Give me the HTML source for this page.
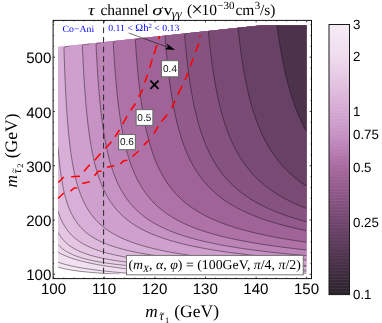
<!DOCTYPE html>
<html><head><meta charset="utf-8"><style>
html,body{margin:0;padding:0;background:#fff;}
svg{display:block}
text{text-rendering:geometricPrecision}
.ss{font-family:"Liberation Sans",sans-serif;}
.sf{font-family:"Liberation Serif",serif;}
</style></head><body>
<svg xmlns="http://www.w3.org/2000/svg" width="382" height="323" viewBox="0 0 382 323">
<defs>
<filter id="nf" x="0" y="0" width="382" height="323" filterUnits="userSpaceOnUse" color-interpolation-filters="sRGB"><feOffset dx="0" dy="0"/></filter>
<clipPath id="cp"><path d="M58.0,47.1 L262,25.3 L306.4,25.3 L306.4,274.3 L58.0,274.3 Z"/></clipPath>
<linearGradient id="cbg" x1="0" y1="0" x2="0" y2="1"><stop offset="0.0000" stop-color="#f7ecf6"/><stop offset="0.0167" stop-color="#f6eaf5"/><stop offset="0.0333" stop-color="#f5e8f4"/><stop offset="0.0500" stop-color="#f4e5f3"/><stop offset="0.0667" stop-color="#f3e3f2"/><stop offset="0.0833" stop-color="#f1e1f0"/><stop offset="0.1000" stop-color="#f0dfef"/><stop offset="0.1167" stop-color="#efdcee"/><stop offset="0.1333" stop-color="#edd8ec"/><stop offset="0.1500" stop-color="#ebd4ea"/><stop offset="0.1667" stop-color="#e9d0e7"/><stop offset="0.1833" stop-color="#e7cce5"/><stop offset="0.2000" stop-color="#e4c7e3"/><stop offset="0.2167" stop-color="#e2c3e1"/><stop offset="0.2333" stop-color="#e0bfde"/><stop offset="0.2500" stop-color="#debbdc"/><stop offset="0.2667" stop-color="#dbb6da"/><stop offset="0.2833" stop-color="#d9b2d7"/><stop offset="0.3000" stop-color="#d7aed5"/><stop offset="0.3167" stop-color="#d5aad3"/><stop offset="0.3333" stop-color="#d2a5d0"/><stop offset="0.3500" stop-color="#d0a1ce"/><stop offset="0.3667" stop-color="#cd9dcb"/><stop offset="0.3833" stop-color="#cb98c8"/><stop offset="0.4000" stop-color="#c894c5"/><stop offset="0.4167" stop-color="#c58fc1"/><stop offset="0.4333" stop-color="#c089bc"/><stop offset="0.4500" stop-color="#bc83b7"/><stop offset="0.4667" stop-color="#b87eb2"/><stop offset="0.4833" stop-color="#b378ac"/><stop offset="0.5000" stop-color="#af72a7"/><stop offset="0.5167" stop-color="#ab6ca2"/><stop offset="0.5333" stop-color="#a6689d"/><stop offset="0.5500" stop-color="#a26599"/><stop offset="0.5667" stop-color="#9d6295"/><stop offset="0.5833" stop-color="#995f91"/><stop offset="0.6000" stop-color="#945c8d"/><stop offset="0.6167" stop-color="#905989"/><stop offset="0.6333" stop-color="#8b5685"/><stop offset="0.6500" stop-color="#875381"/><stop offset="0.6667" stop-color="#82507d"/><stop offset="0.6833" stop-color="#7e4d79"/><stop offset="0.7000" stop-color="#794a75"/><stop offset="0.7167" stop-color="#754771"/><stop offset="0.7333" stop-color="#70456d"/><stop offset="0.7500" stop-color="#6c4269"/><stop offset="0.7667" stop-color="#674065"/><stop offset="0.7833" stop-color="#633e61"/><stop offset="0.8000" stop-color="#5f3c5d"/><stop offset="0.8167" stop-color="#5a3a59"/><stop offset="0.8333" stop-color="#563854"/><stop offset="0.8500" stop-color="#523550"/><stop offset="0.8667" stop-color="#4d334c"/><stop offset="0.8833" stop-color="#493148"/><stop offset="0.9000" stop-color="#442f44"/><stop offset="0.9167" stop-color="#402d40"/><stop offset="0.9333" stop-color="#3c2b3c"/><stop offset="0.9500" stop-color="#372837"/><stop offset="0.9667" stop-color="#332633"/><stop offset="0.9833" stop-color="#2e242f"/><stop offset="1.0000" stop-color="#2a222b"/></linearGradient>
</defs>
<rect width="382" height="323" fill="#fff"/>
<g clip-path="url(#cp)">
<rect x="50" y="20" width="265" height="260" fill="#ffffff"/>
<path d="M58.00,267.15 62.60,268.40 67.88,269.51 73.96,270.50 80.92,271.41 88.93,272.23 98.00,272.98 108.25,273.67 119.87,274.30 L129.9,274.3 L320,274.3 L320,0 L58.0,0 Z" fill="#f5e8f4"/>
<path d="M58.00,262.15 60.98,263.17 64.21,264.15 67.69,265.08 71.48,265.98 75.52,266.83 79.86,267.65 84.46,268.43 89.43,269.18 100.36,270.60 112.72,271.92 126.70,273.15 142.29,274.30 L152.3,274.3 L320,274.3 L320,0 L58.0,0 Z" fill="#f1e0f0"/>
<path d="M58.00,252.15 59.93,253.22 61.91,254.24 66.26,256.18 71.04,257.99 76.39,259.71 82.23,261.31 88.69,262.83 95.77,264.26 103.47,265.61 111.85,266.89 120.99,268.11 130.92,269.27 141.61,270.37 153.16,271.42 165.65,272.42 179.06,273.38 193.41,274.30 L203.4,274.3 L320,274.3 L320,0 L58.0,0 Z" fill="#edd8ec"/>
<path d="M58.00,244.68 59.93,246.64 62.04,248.46 64.34,250.16 66.82,251.74 69.55,253.23 72.47,254.61 75.64,255.90 79.12,257.13 82.91,258.29 86.95,259.37 91.29,260.38 96.01,261.34 101.11,262.25 106.57,263.11 112.48,263.93 118.81,264.70 125.71,265.44 133.10,266.15 149.43,267.45 168.19,268.63 189.50,269.71 213.72,270.69 241.05,271.59 271.86,272.42 306.40,273.18 L316.4,273.2 L320,273.2 L320,0 L58.0,0 Z" fill="#e9d0e7"/>
<path d="M58.00,232.37 59.68,235.19 61.54,237.83 63.59,240.29 65.83,242.56 68.31,244.70 70.98,246.66 73.90,248.48 77.07,250.18 80.55,251.78 84.34,253.27 88.44,254.67 92.91,255.98 97.75,257.21 102.97,258.36 108.62,259.45 114.71,260.47 121.42,261.45 128.63,262.37 136.39,263.24 144.78,264.07 153.78,264.85 163.47,265.59 173.85,266.30 185.03,266.97 209.75,268.21 237.95,269.33 270.06,270.36 306.40,271.30 L316.4,271.3 L320,271.3 L320,0 L58.0,0 Z" fill="#e4c6e2"/>
<path d="M58.00,211.23 59.55,215.70 61.29,219.88 63.16,223.64 65.27,227.22 66.39,228.88 67.57,230.49 70.05,233.48 71.42,234.93 72.78,236.26 74.27,237.61 75.83,238.90 79.12,241.32 82.72,243.58 86.70,245.71 90.98,247.67 95.64,249.51 100.74,251.24 106.20,252.84 112.16,254.36 118.75,255.81 125.89,257.17 133.59,258.45 141.92,259.65 150.92,260.80 160.61,261.87 171.05,262.89 182.23,263.85 194.28,264.76 207.26,265.63 221.18,266.45 236.02,267.23 251.92,267.98 268.94,268.69 306.40,270.01 L316.4,270.0 L320,270.0 L320,0 L58.0,0 Z" fill="#debbdc"/>
<path d="M58.00,147.21 58.93,157.99 60.05,168.25 61.29,177.31 62.72,185.62 63.47,189.29 64.27,192.86 65.14,196.32 66.08,199.64 67.07,202.82 68.06,205.68 69.12,208.43 70.24,211.06 71.42,213.58 72.72,216.09 74.09,218.46 75.52,220.71 77.01,222.83 78.62,224.91 80.30,226.87 82.10,228.78 83.96,230.57 85.95,232.31 88.00,233.94 90.18,235.52 92.47,237.04 94.90,238.50 97.44,239.90 100.11,241.25 102.97,242.56 106.02,243.84 109.18,245.05 112.54,246.22 116.08,247.36 119.74,248.43 123.59,249.47 127.69,250.48 136.45,252.39 146.02,254.14 156.52,255.78 168.07,257.31 180.68,258.74 194.47,260.08 209.50,261.33 225.84,262.50 243.60,263.60 262.92,264.64 283.79,265.61 306.40,266.53 L316.4,266.5 L320,266.5 L320,0 L58.0,0 Z" fill="#d8afd6"/>
<path d="M69.49,45.92 65.59,46.64 65.14,46.74 64.77,46.96 64.47,47.29 64.24,47.73 64.08,48.28 64.00,48.94 63.99,49.71 64.67,69.76 65.41,87.10 66.27,103.23 67.20,117.10 68.24,129.83 69.41,141.38 70.77,152.24 72.25,161.90 73.23,167.38 74.34,172.83 75.51,177.91 76.75,182.65 78.04,187.06 79.46,191.36 81.00,195.50 82.60,199.33 84.33,203.00 86.11,206.40 88.02,209.64 90.06,212.73 92.21,215.66 94.55,218.51 97.02,221.20 99.61,223.73 102.26,226.07 105.03,228.27 107.99,230.40 111.07,232.41 114.33,234.34 117.78,236.19 121.42,237.96 125.30,239.67 129.37,241.31 133.62,242.86 138.12,244.36 142.86,245.80 147.85,247.18 153.09,248.50 158.58,249.77 164.37,250.99 170.47,252.18 176.88,253.31 183.59,254.40 190.68,255.46 198.07,256.47 205.84,257.45 222.48,259.30 240.71,261.02 260.74,262.64 282.55,264.14 306.40,265.54 L316.4,265.5 L320,265.5 L320,0 L69.5,0 Z" fill="#cf9fcd"/>
<path d="M90.41,43.69 83.56,44.76 83.18,44.93 82.88,45.18 82.65,45.51 82.50,45.92 82.42,46.41 82.41,46.99 83.16,63.18 83.96,77.67 84.88,91.48 85.91,104.41 87.06,116.37 88.27,126.91 89.65,137.04 91.14,146.27 92.23,152.13 93.44,157.91 94.70,163.29 96.08,168.54 97.51,173.41 99.01,177.95 100.62,182.33 102.34,186.54 104.18,190.56 106.07,194.29 108.08,197.86 110.26,201.34 112.56,204.63 114.97,207.75 117.56,210.77 120.26,213.61 122.84,216.08 125.60,218.49 128.47,220.77 131.51,222.99 134.67,225.09 138.00,227.12 141.51,229.07 145.13,230.92 148.97,232.72 153.00,234.45 157.19,236.10 161.61,237.70 166.20,239.24 171.03,240.72 176.08,242.15 181.37,243.52 186.94,244.86 192.74,246.14 198.83,247.38 205.14,248.57 211.75,249.73 218.64,250.84 225.88,251.91 233.40,252.95 249.43,254.93 266.89,256.78 285.84,258.51 306.40,260.14 L316.4,260.1 L320,260.1 L320,0 L90.4,0 Z" fill="#c792c4"/>
<path d="M100.05,42.66 97.21,43.30 96.83,43.45 96.53,43.67 96.30,43.97 96.14,44.33 96.06,44.76 96.49,53.99 97.19,66.49 98.01,78.87 98.93,90.84 99.96,102.22 101.04,112.46 102.23,122.11 103.48,130.80 104.89,139.26 106.41,147.12 107.55,152.33 108.74,157.26 110.04,162.11 111.39,166.68 112.80,170.99 114.32,175.19 115.89,179.13 117.52,182.84 119.25,186.44 121.09,189.92 123.05,193.27 125.11,196.48 127.22,199.49 129.50,202.45 131.88,205.27 134.37,207.97 136.87,210.44 139.52,212.85 142.29,215.15 145.21,217.39 148.25,219.52 151.45,221.59 154.75,223.55 158.22,225.45 161.85,227.28 165.65,229.04 169.60,230.74 173.78,232.39 178.11,233.97 182.61,235.49 187.33,236.96 192.26,238.38 197.41,239.75 202.77,241.08 208.35,242.35 214.21,243.59 220.33,244.80 226.67,245.96 233.29,247.07 240.17,248.16 254.80,250.22 270.68,252.16 287.86,253.97 306.40,255.68 L316.4,255.7 L320,255.7 L320,0 L100.1,0 Z" fill="#bc83b7"/>
<path d="M114.29,41.13 114.89,41.37 114.07,41.56 113.76,41.73 113.54,41.95 113.38,42.21 113.29,42.88 114.14,57.30 115.09,70.93 116.10,83.12 117.20,94.57 118.00,101.87 118.85,108.85 119.76,115.52 120.66,121.54 121.66,127.60 122.72,133.36 123.82,138.82 125.02,144.21 126.17,148.91 127.38,153.39 128.63,157.66 129.98,161.88 131.39,165.88 132.84,169.67 134.35,173.28 135.95,176.81 137.60,180.16 139.36,183.42 141.21,186.59 143.12,189.58 145.12,192.49 147.23,195.29 149.44,198.00 151.74,200.61 154.15,203.13 156.65,205.54 159.26,207.86 162.02,210.13 164.88,212.30 167.83,214.37 170.94,216.40 174.15,218.33 177.51,220.20 181.02,222.02 184.68,223.77 188.49,225.46 192.45,227.10 196.56,228.68 200.87,230.21 205.33,231.69 210.00,233.12 214.86,234.52 219.92,235.86 225.14,237.16 230.60,238.42 236.26,239.64 248.25,241.96 261.18,244.15 275.17,246.21 290.21,248.14 306.40,249.97 L316.4,250.0 L320,250.0 L320,0 L114.3,0 Z" fill="#af72a7"/>
<path d="M140.87,38.29 136.52,39.09 136.14,39.22 135.84,39.40 135.61,39.64 135.46,39.93 135.37,40.68 136.31,54.22 137.30,66.40 138.38,77.87 139.55,88.61 140.81,98.64 142.20,108.25 143.69,117.14 145.26,125.35 146.38,130.60 147.60,135.76 148.86,140.66 150.16,145.30 151.55,149.83 152.99,154.12 154.52,158.30 156.10,162.25 157.76,166.08 159.51,169.78 161.36,173.36 163.24,176.73 165.22,179.99 167.34,183.19 169.54,186.26 171.83,189.20 174.04,191.82 176.33,194.35 178.71,196.79 181.18,199.14 183.75,201.41 186.44,203.63 189.23,205.76 192.15,207.85 195.17,209.85 198.31,211.79 201.55,213.66 204.92,215.47 208.43,217.23 212.07,218.94 215.85,220.59 219.81,222.20 223.90,223.76 228.12,225.26 232.53,226.73 237.07,228.14 241.79,229.52 246.69,230.85 251.77,232.15 257.03,233.41 268.14,235.82 280.01,238.08 292.73,240.22 306.40,242.25 L316.4,242.2 L320,242.2 L320,0 L140.9,0 Z" fill="#9f6397"/>
<path d="M165.01,35.77 166.15,49.69 167.36,62.39 168.69,74.33 170.13,85.49 171.69,95.87 173.40,105.72 175.26,114.99 177.23,123.53 179.39,131.65 181.71,139.22 182.92,142.80 184.21,146.36 185.54,149.78 186.91,153.06 188.31,156.23 189.79,159.34 191.31,162.34 192.91,165.28 194.54,168.10 196.25,170.87 198.03,173.58 199.85,176.17 201.75,178.70 203.73,181.17 205.77,183.58 207.90,185.92 210.10,188.20 212.34,190.37 214.69,192.52 217.12,194.60 219.63,196.62 222.21,198.58 224.91,200.50 227.68,202.36 230.52,204.15 233.48,205.91 236.56,207.63 239.71,209.29 242.97,210.91 246.35,212.49 249.84,214.03 253.41,215.52 260.93,218.38 268.94,221.10 277.44,223.68 286.51,226.13 296.15,228.46 306.40,230.68 L316.4,230.7 L320,230.7 L320,0 L165.0,0 Z" fill="#915a8b"/>
<path d="M188.62,33.19 185.77,33.83 185.40,33.96 185.09,34.16 184.86,34.42 184.71,34.73 184.62,35.54 185.55,45.93 186.52,55.51 187.56,64.66 188.66,73.37 189.82,81.64 191.06,89.48 192.39,97.08 193.79,104.25 195.83,113.43 198.06,122.17 199.23,126.27 200.46,130.31 201.73,134.18 203.07,137.98 204.43,141.61 205.87,145.17 207.37,148.64 208.90,151.96 210.50,155.20 212.14,158.29 213.87,161.35 215.64,164.28 217.34,166.92 219.08,169.46 220.88,171.94 222.71,174.32 224.65,176.69 226.61,178.96 228.68,181.21 230.78,183.36 232.95,185.47 235.22,187.54 237.52,189.53 239.92,191.48 242.39,193.38 244.93,195.23 247.53,197.02 250.23,198.78 253.03,200.50 255.90,202.17 261.90,205.39 268.27,208.45 275.05,211.36 282.22,214.13 289.82,216.78 297.86,219.29 306.40,221.69 L316.4,221.7 L320,221.7 L320,0 L188.6,0 Z" fill="#865280"/>
<path d="M208.40,31.25 209.45,41.92 210.59,52.13 211.81,61.87 213.11,71.11 214.50,79.86 215.97,88.13 217.52,95.93 219.18,103.41 220.96,110.55 222.84,117.34 224.84,123.79 226.95,129.90 229.20,135.76 231.58,141.35 234.10,146.68 236.77,151.75 239.59,156.61 242.59,161.25 245.75,165.68 249.11,169.93 252.63,173.97 256.34,177.83 260.28,181.54 264.41,185.07 268.77,188.45 273.37,191.70 278.20,194.80 283.30,197.78 288.65,200.62 294.28,203.35 300.19,205.96 306.40,208.47 L316.4,208.5 L320,208.5 L320,0 L208.4,0 Z" fill="#784a74"/>
<path d="M238.04,27.95 238.98,36.51 239.95,44.64 240.98,52.51 242.08,60.12 243.22,67.31 244.42,74.24 245.68,80.89 247.01,87.28 248.39,93.39 249.86,99.33 251.39,104.99 253.01,110.47 254.70,115.75 256.46,120.78 258.33,125.66 260.27,130.36 262.32,134.90 264.45,139.25 266.69,143.45 269.00,147.47 271.45,151.37 273.99,155.12 276.64,158.72 279.41,162.21 282.31,165.57 285.33,168.82 288.50,171.96 291.79,174.99 295.22,177.91 298.78,180.72 302.51,183.45 306.40,186.09 L316.4,186.1 L320,186.1 L320,0 L238.0,0 Z" fill="#684166"/>
<path d="M276.95,25.32 278.18,34.23 279.48,42.73 280.85,50.89 282.28,58.72 283.80,66.22 285.39,73.44 287.06,80.33 288.82,86.94 290.67,93.33 292.60,99.43 294.63,105.30 296.77,110.97 299.01,116.40 301.36,121.63 303.82,126.68 306.40,131.52 L316.4,131.5 L320,131.5 L320,0 L277.0,0 Z" fill="#4c334b"/>
<g fill="none" stroke="#100810" stroke-opacity="0.85" stroke-width="0.52"><path d="M58.00,267.15 62.60,268.40 67.88,269.51 73.96,270.50 80.92,271.41 88.93,272.23 98.00,272.98 108.25,273.67 119.87,274.30"/><path d="M58.00,262.15 60.98,263.17 64.21,264.15 67.69,265.08 71.48,265.98 75.52,266.83 79.86,267.65 84.46,268.43 89.43,269.18 100.36,270.60 112.72,271.92 126.70,273.15 142.29,274.30"/><path d="M58.00,252.15 59.93,253.22 61.91,254.24 66.26,256.18 71.04,257.99 76.39,259.71 82.23,261.31 88.69,262.83 95.77,264.26 103.47,265.61 111.85,266.89 120.99,268.11 130.92,269.27 141.61,270.37 153.16,271.42 165.65,272.42 179.06,273.38 193.41,274.30"/><path d="M58.00,244.68 59.93,246.64 62.04,248.46 64.34,250.16 66.82,251.74 69.55,253.23 72.47,254.61 75.64,255.90 79.12,257.13 82.91,258.29 86.95,259.37 91.29,260.38 96.01,261.34 101.11,262.25 106.57,263.11 112.48,263.93 118.81,264.70 125.71,265.44 133.10,266.15 149.43,267.45 168.19,268.63 189.50,269.71 213.72,270.69 241.05,271.59 271.86,272.42 306.40,273.18"/><path d="M58.00,232.37 59.68,235.19 61.54,237.83 63.59,240.29 65.83,242.56 68.31,244.70 70.98,246.66 73.90,248.48 77.07,250.18 80.55,251.78 84.34,253.27 88.44,254.67 92.91,255.98 97.75,257.21 102.97,258.36 108.62,259.45 114.71,260.47 121.42,261.45 128.63,262.37 136.39,263.24 144.78,264.07 153.78,264.85 163.47,265.59 173.85,266.30 185.03,266.97 209.75,268.21 237.95,269.33 270.06,270.36 306.40,271.30"/><path d="M58.00,211.23 59.55,215.70 61.29,219.88 63.16,223.64 65.27,227.22 66.39,228.88 67.57,230.49 70.05,233.48 71.42,234.93 72.78,236.26 74.27,237.61 75.83,238.90 79.12,241.32 82.72,243.58 86.70,245.71 90.98,247.67 95.64,249.51 100.74,251.24 106.20,252.84 112.16,254.36 118.75,255.81 125.89,257.17 133.59,258.45 141.92,259.65 150.92,260.80 160.61,261.87 171.05,262.89 182.23,263.85 194.28,264.76 207.26,265.63 221.18,266.45 236.02,267.23 251.92,267.98 268.94,268.69 306.40,270.01"/><path d="M58.00,147.21 58.93,157.99 60.05,168.25 61.29,177.31 62.72,185.62 63.47,189.29 64.27,192.86 65.14,196.32 66.08,199.64 67.07,202.82 68.06,205.68 69.12,208.43 70.24,211.06 71.42,213.58 72.72,216.09 74.09,218.46 75.52,220.71 77.01,222.83 78.62,224.91 80.30,226.87 82.10,228.78 83.96,230.57 85.95,232.31 88.00,233.94 90.18,235.52 92.47,237.04 94.90,238.50 97.44,239.90 100.11,241.25 102.97,242.56 106.02,243.84 109.18,245.05 112.54,246.22 116.08,247.36 119.74,248.43 123.59,249.47 127.69,250.48 136.45,252.39 146.02,254.14 156.52,255.78 168.07,257.31 180.68,258.74 194.47,260.08 209.50,261.33 225.84,262.50 243.60,263.60 262.92,264.64 283.79,265.61 306.40,266.53"/><path d="M69.49,45.92 65.59,46.64 65.14,46.74 64.77,46.96 64.47,47.29 64.24,47.73 64.08,48.28 64.00,48.94 63.99,49.71 64.67,69.76 65.41,87.10 66.27,103.23 67.20,117.10 68.24,129.83 69.41,141.38 70.77,152.24 72.25,161.90 73.23,167.38 74.34,172.83 75.51,177.91 76.75,182.65 78.04,187.06 79.46,191.36 81.00,195.50 82.60,199.33 84.33,203.00 86.11,206.40 88.02,209.64 90.06,212.73 92.21,215.66 94.55,218.51 97.02,221.20 99.61,223.73 102.26,226.07 105.03,228.27 107.99,230.40 111.07,232.41 114.33,234.34 117.78,236.19 121.42,237.96 125.30,239.67 129.37,241.31 133.62,242.86 138.12,244.36 142.86,245.80 147.85,247.18 153.09,248.50 158.58,249.77 164.37,250.99 170.47,252.18 176.88,253.31 183.59,254.40 190.68,255.46 198.07,256.47 205.84,257.45 222.48,259.30 240.71,261.02 260.74,262.64 282.55,264.14 306.40,265.54"/><path d="M90.41,43.69 83.56,44.76 83.18,44.93 82.88,45.18 82.65,45.51 82.50,45.92 82.42,46.41 82.41,46.99 83.16,63.18 83.96,77.67 84.88,91.48 85.91,104.41 87.06,116.37 88.27,126.91 89.65,137.04 91.14,146.27 92.23,152.13 93.44,157.91 94.70,163.29 96.08,168.54 97.51,173.41 99.01,177.95 100.62,182.33 102.34,186.54 104.18,190.56 106.07,194.29 108.08,197.86 110.26,201.34 112.56,204.63 114.97,207.75 117.56,210.77 120.26,213.61 122.84,216.08 125.60,218.49 128.47,220.77 131.51,222.99 134.67,225.09 138.00,227.12 141.51,229.07 145.13,230.92 148.97,232.72 153.00,234.45 157.19,236.10 161.61,237.70 166.20,239.24 171.03,240.72 176.08,242.15 181.37,243.52 186.94,244.86 192.74,246.14 198.83,247.38 205.14,248.57 211.75,249.73 218.64,250.84 225.88,251.91 233.40,252.95 249.43,254.93 266.89,256.78 285.84,258.51 306.40,260.14"/><path d="M100.05,42.66 97.21,43.30 96.83,43.45 96.53,43.67 96.30,43.97 96.14,44.33 96.06,44.76 96.49,53.99 97.19,66.49 98.01,78.87 98.93,90.84 99.96,102.22 101.04,112.46 102.23,122.11 103.48,130.80 104.89,139.26 106.41,147.12 107.55,152.33 108.74,157.26 110.04,162.11 111.39,166.68 112.80,170.99 114.32,175.19 115.89,179.13 117.52,182.84 119.25,186.44 121.09,189.92 123.05,193.27 125.11,196.48 127.22,199.49 129.50,202.45 131.88,205.27 134.37,207.97 136.87,210.44 139.52,212.85 142.29,215.15 145.21,217.39 148.25,219.52 151.45,221.59 154.75,223.55 158.22,225.45 161.85,227.28 165.65,229.04 169.60,230.74 173.78,232.39 178.11,233.97 182.61,235.49 187.33,236.96 192.26,238.38 197.41,239.75 202.77,241.08 208.35,242.35 214.21,243.59 220.33,244.80 226.67,245.96 233.29,247.07 240.17,248.16 254.80,250.22 270.68,252.16 287.86,253.97 306.40,255.68"/><path d="M114.29,41.13 114.89,41.37 114.07,41.56 113.76,41.73 113.54,41.95 113.38,42.21 113.29,42.88 114.14,57.30 115.09,70.93 116.10,83.12 117.20,94.57 118.00,101.87 118.85,108.85 119.76,115.52 120.66,121.54 121.66,127.60 122.72,133.36 123.82,138.82 125.02,144.21 126.17,148.91 127.38,153.39 128.63,157.66 129.98,161.88 131.39,165.88 132.84,169.67 134.35,173.28 135.95,176.81 137.60,180.16 139.36,183.42 141.21,186.59 143.12,189.58 145.12,192.49 147.23,195.29 149.44,198.00 151.74,200.61 154.15,203.13 156.65,205.54 159.26,207.86 162.02,210.13 164.88,212.30 167.83,214.37 170.94,216.40 174.15,218.33 177.51,220.20 181.02,222.02 184.68,223.77 188.49,225.46 192.45,227.10 196.56,228.68 200.87,230.21 205.33,231.69 210.00,233.12 214.86,234.52 219.92,235.86 225.14,237.16 230.60,238.42 236.26,239.64 248.25,241.96 261.18,244.15 275.17,246.21 290.21,248.14 306.40,249.97"/><path d="M140.87,38.29 136.52,39.09 136.14,39.22 135.84,39.40 135.61,39.64 135.46,39.93 135.37,40.68 136.31,54.22 137.30,66.40 138.38,77.87 139.55,88.61 140.81,98.64 142.20,108.25 143.69,117.14 145.26,125.35 146.38,130.60 147.60,135.76 148.86,140.66 150.16,145.30 151.55,149.83 152.99,154.12 154.52,158.30 156.10,162.25 157.76,166.08 159.51,169.78 161.36,173.36 163.24,176.73 165.22,179.99 167.34,183.19 169.54,186.26 171.83,189.20 174.04,191.82 176.33,194.35 178.71,196.79 181.18,199.14 183.75,201.41 186.44,203.63 189.23,205.76 192.15,207.85 195.17,209.85 198.31,211.79 201.55,213.66 204.92,215.47 208.43,217.23 212.07,218.94 215.85,220.59 219.81,222.20 223.90,223.76 228.12,225.26 232.53,226.73 237.07,228.14 241.79,229.52 246.69,230.85 251.77,232.15 257.03,233.41 268.14,235.82 280.01,238.08 292.73,240.22 306.40,242.25"/><path d="M165.01,35.77 166.15,49.69 167.36,62.39 168.69,74.33 170.13,85.49 171.69,95.87 173.40,105.72 175.26,114.99 177.23,123.53 179.39,131.65 181.71,139.22 182.92,142.80 184.21,146.36 185.54,149.78 186.91,153.06 188.31,156.23 189.79,159.34 191.31,162.34 192.91,165.28 194.54,168.10 196.25,170.87 198.03,173.58 199.85,176.17 201.75,178.70 203.73,181.17 205.77,183.58 207.90,185.92 210.10,188.20 212.34,190.37 214.69,192.52 217.12,194.60 219.63,196.62 222.21,198.58 224.91,200.50 227.68,202.36 230.52,204.15 233.48,205.91 236.56,207.63 239.71,209.29 242.97,210.91 246.35,212.49 249.84,214.03 253.41,215.52 260.93,218.38 268.94,221.10 277.44,223.68 286.51,226.13 296.15,228.46 306.40,230.68"/><path d="M188.62,33.19 185.77,33.83 185.40,33.96 185.09,34.16 184.86,34.42 184.71,34.73 184.62,35.54 185.55,45.93 186.52,55.51 187.56,64.66 188.66,73.37 189.82,81.64 191.06,89.48 192.39,97.08 193.79,104.25 195.83,113.43 198.06,122.17 199.23,126.27 200.46,130.31 201.73,134.18 203.07,137.98 204.43,141.61 205.87,145.17 207.37,148.64 208.90,151.96 210.50,155.20 212.14,158.29 213.87,161.35 215.64,164.28 217.34,166.92 219.08,169.46 220.88,171.94 222.71,174.32 224.65,176.69 226.61,178.96 228.68,181.21 230.78,183.36 232.95,185.47 235.22,187.54 237.52,189.53 239.92,191.48 242.39,193.38 244.93,195.23 247.53,197.02 250.23,198.78 253.03,200.50 255.90,202.17 261.90,205.39 268.27,208.45 275.05,211.36 282.22,214.13 289.82,216.78 297.86,219.29 306.40,221.69"/><path d="M208.40,31.25 209.45,41.92 210.59,52.13 211.81,61.87 213.11,71.11 214.50,79.86 215.97,88.13 217.52,95.93 219.18,103.41 220.96,110.55 222.84,117.34 224.84,123.79 226.95,129.90 229.20,135.76 231.58,141.35 234.10,146.68 236.77,151.75 239.59,156.61 242.59,161.25 245.75,165.68 249.11,169.93 252.63,173.97 256.34,177.83 260.28,181.54 264.41,185.07 268.77,188.45 273.37,191.70 278.20,194.80 283.30,197.78 288.65,200.62 294.28,203.35 300.19,205.96 306.40,208.47"/><path d="M238.04,27.95 238.98,36.51 239.95,44.64 240.98,52.51 242.08,60.12 243.22,67.31 244.42,74.24 245.68,80.89 247.01,87.28 248.39,93.39 249.86,99.33 251.39,104.99 253.01,110.47 254.70,115.75 256.46,120.78 258.33,125.66 260.27,130.36 262.32,134.90 264.45,139.25 266.69,143.45 269.00,147.47 271.45,151.37 273.99,155.12 276.64,158.72 279.41,162.21 282.31,165.57 285.33,168.82 288.50,171.96 291.79,174.99 295.22,177.91 298.78,180.72 302.51,183.45 306.40,186.09"/><path d="M276.95,25.32 278.18,34.23 279.48,42.73 280.85,50.89 282.28,58.72 283.80,66.22 285.39,73.44 287.06,80.33 288.82,86.94 290.67,93.33 292.60,99.43 294.63,105.30 296.77,110.97 299.01,116.40 301.36,121.63 303.82,126.68 306.40,131.52"/></g>
</g>
<g filter="url(#nf)">
<!-- dashed vertical at 110 -->
<path d="M103.6,20.4 V278.6" stroke="#262626" stroke-width="1.0" stroke-dasharray="5.8,3.81" stroke-dashoffset="2.62" fill="none"/>
<!-- red dashed curves -->
<path d="M159.7,35.9 L158.6,39.3 M156.9,45.1 L153.9,54.3 M152.2,59.4 L149.7,67.7 M147.5,74.7 L144.7,82.6 M142.7,89.3 L138.8,96.8 M135.5,103.5 L130.8,110.2 M127.1,116.1 L122.6,124.2 M119.5,130.0 L114.9,136.8 M111.5,141.8 L105.3,148.5 M100.6,153.5 L94.7,160.2 M89.7,164.7 L84.0,171.2 M80.0,176.2 L71.2,176.8 M63.8,177.0 L58.3,182.5 M200.2,35.6 L199.8,37.2 M198.8,43.5 L195.5,51.8 M193.4,58.2 L190.4,66.0 M188.0,72.9 L185.1,80.0 M182.0,85.9 L177.9,94.8 M175.1,100.6 L171.7,108.1 M167.3,114.4 L161.4,121.5 M158.1,126.4 L153.9,133.7 M149.2,139.8 L143.8,145.1 M138.8,151.0 L132.4,156.5 M127.4,160.2 L123.7,160.7 L120.4,163.9 M114.3,165.6 L107.1,167.2 M101.5,171.3 L98.3,171.3 L94.4,175.7 M89.7,181.7 L82.2,183.6 M77.1,188.0 L74.0,188.0 L70.5,191.1 M63.8,193.0 L58.0,198.5" fill="none" stroke="#ff0000" stroke-width="1.55" stroke-linejoin="round"/>
<!-- arrow -->
<path d="M128.7,33 L168.3,47.4" stroke="#111" stroke-width="0.6" fill="none"/>
<path d="M175.2,50 L164.5,49.3 L168.0,47.2 L166.8,43.5 Z" fill="#000"/>
<!-- x marker -->
<path d="M150.4,80.7 L158.5,88.8 M158.5,80.7 L150.4,88.8" stroke="#000" stroke-width="1.8" fill="none"/>
<!-- contour labels -->
<g class="ss" font-size="10" fill="#111" text-anchor="middle">
<rect x="161.5" y="60.6" width="17" height="16.2" fill="#fff" stroke="#6c6c6c" stroke-width="1.1"/><text x="170" y="72">0.4</text>
<rect x="136.1" y="109.6" width="16.8" height="15.8" fill="#fff" stroke="#6c6c6c" stroke-width="1.1"/><text x="144.3" y="120.8">0.5</text>
<rect x="118.6" y="134.5" width="16.8" height="15.2" fill="#fff" stroke="#6c6c6c" stroke-width="1.1"/><text x="126.9" y="145.4">0.6</text>
</g>
<!-- legend box -->
<rect x="126.5" y="255.4" width="176.7" height="19.4" fill="#fff" stroke="#6a6a6a" stroke-width="0.9"/>
<text class="sf" x="128.5" y="269.1" font-size="13.5" fill="#000" textLength="172.3" lengthAdjust="spacingAndGlyphs">(<tspan font-style="italic">m</tspan><tspan font-style="italic" font-size="9.5" dy="2.5">X</tspan><tspan dy="-2.5">, </tspan><tspan font-style="italic">α</tspan>, <tspan font-style="italic">φ</tspan>) = (100GeV, <tspan font-style="italic">π</tspan>/4, <tspan font-style="italic">π</tspan>/2)</text>
<!-- frame -->
<rect x="53.1" y="20.4" width="258.4" height="258.20000000000005" fill="none" stroke="#111" stroke-width="1"/>
<path d="M53.70,278.60 v-1.90 M53.70,20.40 v1.90 M63.82,278.60 v-1.00 M63.82,20.40 v1.00 M73.94,278.60 v-1.00 M73.94,20.40 v1.00 M84.06,278.60 v-1.00 M84.06,20.40 v1.00 M94.18,278.60 v-1.00 M94.18,20.40 v1.00 M104.30,278.60 v-1.90 M104.30,20.40 v1.90 M114.42,278.60 v-1.00 M114.42,20.40 v1.00 M124.54,278.60 v-1.00 M124.54,20.40 v1.00 M134.66,278.60 v-1.00 M134.66,20.40 v1.00 M144.78,278.60 v-1.00 M144.78,20.40 v1.00 M154.90,278.60 v-1.90 M154.90,20.40 v1.90 M165.02,278.60 v-1.00 M165.02,20.40 v1.00 M175.14,278.60 v-1.00 M175.14,20.40 v1.00 M185.26,278.60 v-1.00 M185.26,20.40 v1.00 M195.38,278.60 v-1.00 M195.38,20.40 v1.00 M205.50,278.60 v-1.90 M205.50,20.40 v1.90 M215.62,278.60 v-1.00 M215.62,20.40 v1.00 M225.74,278.60 v-1.00 M225.74,20.40 v1.00 M235.86,278.60 v-1.00 M235.86,20.40 v1.00 M245.98,278.60 v-1.00 M245.98,20.40 v1.00 M256.10,278.60 v-1.90 M256.10,20.40 v1.90 M266.22,278.60 v-1.00 M266.22,20.40 v1.00 M276.34,278.60 v-1.00 M276.34,20.40 v1.00 M286.46,278.60 v-1.00 M286.46,20.40 v1.00 M296.58,278.60 v-1.00 M296.58,20.40 v1.00 M306.70,278.60 v-1.90 M306.70,20.40 v1.90 M53.10,274.30 h1.90 M311.50,274.30 h-1.90 M53.10,263.44 h1.00 M311.50,263.44 h-1.00 M53.10,252.59 h1.00 M311.50,252.59 h-1.00 M53.10,241.73 h1.00 M311.50,241.73 h-1.00 M53.10,230.88 h1.00 M311.50,230.88 h-1.00 M53.10,220.02 h1.90 M311.50,220.02 h-1.90 M53.10,209.16 h1.00 M311.50,209.16 h-1.00 M53.10,198.31 h1.00 M311.50,198.31 h-1.00 M53.10,187.45 h1.00 M311.50,187.45 h-1.00 M53.10,176.60 h1.00 M311.50,176.60 h-1.00 M53.10,165.74 h1.90 M311.50,165.74 h-1.90 M53.10,154.88 h1.00 M311.50,154.88 h-1.00 M53.10,144.03 h1.00 M311.50,144.03 h-1.00 M53.10,133.17 h1.00 M311.50,133.17 h-1.00 M53.10,122.32 h1.00 M311.50,122.32 h-1.00 M53.10,111.46 h1.90 M311.50,111.46 h-1.90 M53.10,100.60 h1.00 M311.50,100.60 h-1.00 M53.10,89.75 h1.00 M311.50,89.75 h-1.00 M53.10,78.89 h1.00 M311.50,78.89 h-1.00 M53.10,68.04 h1.00 M311.50,68.04 h-1.00 M53.10,57.18 h1.90 M311.50,57.18 h-1.90 M53.10,46.32 h1.00 M311.50,46.32 h-1.00 M53.10,35.47 h1.00 M311.50,35.47 h-1.00 M53.10,24.61 h1.00 M311.50,24.61 h-1.00" stroke="#111" stroke-width="0.8" fill="none"/>
<g class="ss" font-size="15.1" fill="#000"><text x="53.5" y="294.3" text-anchor="middle">100</text><text x="104.1" y="294.3" text-anchor="middle">110</text><text x="154.7" y="294.3" text-anchor="middle">120</text><text x="205.3" y="294.3" text-anchor="middle">130</text><text x="255.9" y="294.3" text-anchor="middle">140</text><text x="306.5" y="294.3" text-anchor="middle">150</text><text x="51.4" y="280.3" text-anchor="end">100</text><text x="51.4" y="226.0" text-anchor="end">200</text><text x="51.4" y="171.7" text-anchor="end">300</text><text x="51.4" y="117.5" text-anchor="end">400</text><text x="51.4" y="63.2" text-anchor="end">500</text></g>
<!-- blue annotations -->
<g class="sf" font-size="9.5" fill="#0000ff">
<text x="62.6" y="31.5" textLength="31.6" lengthAdjust="spacingAndGlyphs">Co−Ani</text>
<text x="108.2" y="31.2" textLength="71.2" lengthAdjust="spacingAndGlyphs">0.11 &lt; <tspan font-size="10.3">Ωh</tspan><tspan font-size="6.5" dy="-3.5">2</tspan><tspan dy="3.5"> &lt; 0.13</tspan></text>
</g>
<!-- title -->
<text class="sf" y="14.6" font-size="15.5" fill="#000"><tspan x="100.4">channel</tspan><tspan x="171.8" font-style="italic" font-size="12.6" dy="3.2">γγ</tspan><tspan x="187.1" dy="-3.2">(</tspan><tspan x="191.3" font-size="20.5" dy="0.9">×</tspan><tspan x="201.6" dy="-0.9">10</tspan><tspan x="217.2" font-size="11" dy="-5.4">−30</tspan><tspan x="235.4" dy="5.4">cm</tspan><tspan x="254.8" font-size="11" dy="-5.4">3</tspan><tspan x="260.0" dy="5.4">/s)</tspan></text>
<text class="sf" transform="translate(88,14.6) scale(1.2,1)" font-size="15.5" fill="#000" font-style="italic">τ</text>
<text class="sf" transform="translate(163.5,14.6) scale(1.16,1)" font-size="15.5" fill="#000">v</text>
<text class="sf" transform="translate(152.2,14.6) scale(1.35,1)" font-size="15.5" fill="#000" font-style="italic">σ</text>
<!-- x label -->
<text class="sf" x="145.3" y="316.9" font-size="17.3" fill="#000"><tspan font-style="italic">m</tspan><tspan font-style="italic" font-size="12.5" x="159.2" dy="3.5">τ</tspan><tspan font-size="8.5" x="164.9" dy="2.1">1</tspan><tspan dy="-5.6" x="174.3" font-size="17.5">(GeV)</tspan></text>
<text class="sf" x="162.2" y="315.5" font-size="8.5" fill="#000" text-anchor="middle">~</text>
<!-- y label -->
<g transform="translate(17.3,187.4) rotate(-90)">
<text class="sf" x="0" y="0" font-size="17.3" fill="#000"><tspan font-style="italic">m</tspan><tspan font-style="italic" font-size="12.5" x="13.9" dy="3.5">τ</tspan><tspan font-size="8.5" x="19.6" dy="2.1">2</tspan><tspan dy="-5.6" x="29.2" font-size="17.5">(GeV)</tspan></text>
<text class="sf" x="16.9" y="-1.4" font-size="8.5" fill="#000" text-anchor="middle">~</text>
</g>
<!-- colorbar -->
<rect x="329" y="24.5" width="20.5" height="270.1" fill="url(#cbg)"/>
<path d="M329.5,27.54 H349 M329.5,30.57 H349 M329.5,33.61 H349 M329.5,36.64 H349 M329.5,39.67 H349 M329.5,42.71 H349 M329.5,45.75 H349 M329.5,48.78 H349 M329.5,51.81 H349 M329.5,54.85 H349 M329.5,57.89 H349 M329.5,60.92 H349 M329.5,63.95 H349 M329.5,66.99 H349 M329.5,70.03 H349 M329.5,73.06 H349 M329.5,76.09 H349 M329.5,79.13 H349 M329.5,82.17 H349 M329.5,85.20 H349 M329.5,88.23 H349 M329.5,91.27 H349 M329.5,94.31 H349 M329.5,97.34 H349 M329.5,100.38 H349 M329.5,103.41 H349 M329.5,106.45 H349 M329.5,109.48 H349 M329.5,112.52 H349 M329.5,115.55 H349 M329.5,118.59 H349 M329.5,121.62 H349 M329.5,124.66 H349 M329.5,127.69 H349 M329.5,130.73 H349 M329.5,133.76 H349 M329.5,136.80 H349 M329.5,139.83 H349 M329.5,142.87 H349 M329.5,145.90 H349 M329.5,148.94 H349 M329.5,151.97 H349 M329.5,155.00 H349 M329.5,158.04 H349 M329.5,161.08 H349 M329.5,164.11 H349 M329.5,167.15 H349 M329.5,170.18 H349 M329.5,173.22 H349 M329.5,176.25 H349 M329.5,179.28 H349 M329.5,182.32 H349 M329.5,185.36 H349 M329.5,188.39 H349 M329.5,191.43 H349 M329.5,194.46 H349 M329.5,197.50 H349 M329.5,200.53 H349 M329.5,203.56 H349 M329.5,206.60 H349 M329.5,209.64 H349 M329.5,212.67 H349 M329.5,215.71 H349 M329.5,218.74 H349 M329.5,221.78 H349 M329.5,224.81 H349 M329.5,227.84 H349 M329.5,230.88 H349 M329.5,233.92 H349 M329.5,236.95 H349 M329.5,239.99 H349 M329.5,243.02 H349 M329.5,246.06 H349 M329.5,249.09 H349 M329.5,252.12 H349 M329.5,255.16 H349 M329.5,258.20 H349 M329.5,261.23 H349 M329.5,264.26 H349 M329.5,267.30 H349 M329.5,270.34 H349 M329.5,273.37 H349 M329.5,276.40 H349 M329.5,279.44 H349 M329.5,282.48 H349 M329.5,285.51 H349 M329.5,288.55 H349 M329.5,291.58 H349" stroke="#fff" stroke-opacity="0.13" stroke-width="0.5" fill="none"/>
<rect x="329" y="24.5" width="20.5" height="270.1" fill="none" stroke="#1a1a1a" stroke-width="1"/>
<g class="ss" font-size="13.3" fill="#000"><text x="353" y="29.2">3</text><text x="353" y="61.4">2</text><text x="353" y="116.4">1</text><text x="353" y="139.3">0.75</text><text x="353" y="171.5">0.5</text><text x="353" y="226.5">0.25</text><text x="353" y="299.3">0.1</text></g>
</g>
</svg>
</body></html>
